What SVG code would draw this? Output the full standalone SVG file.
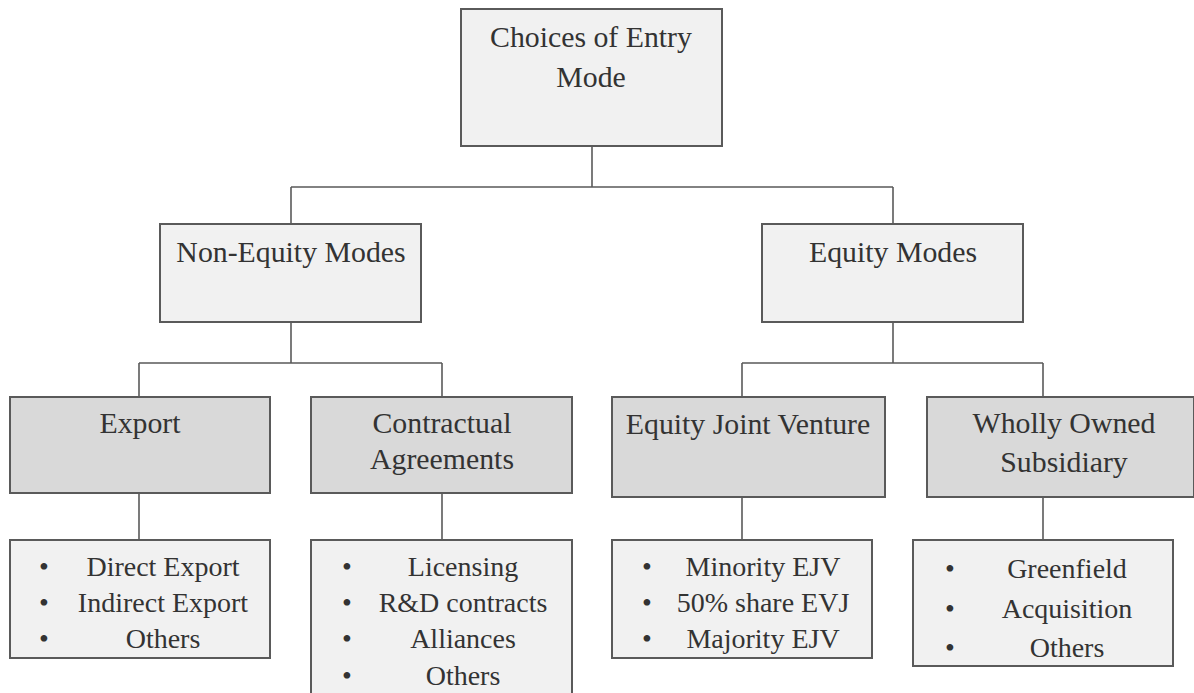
<svg xmlns="http://www.w3.org/2000/svg" width="1194" height="693" viewBox="0 0 1194 693">
<style>
.l1{fill:#f1f1f1;stroke:#5a5a5a;stroke-width:2}
.l2{fill:#d9d9d9;stroke:#5a5a5a;stroke-width:2}
.l3{fill:#f1f1f1;stroke:#5a5a5a;stroke-width:2}
text{font-family:"Liberation Serif","Times New Roman",serif;fill:#333333;text-anchor:middle}
.h{font-size:29.8px}
.i{font-size:28px}
.b{font-size:28px}
.conn{fill:none;stroke:#5a5a5a;stroke-width:1.6}
</style>
<rect width="1194" height="693" fill="#ffffff"/>
<g id="connectors" class="conn">
<path d="M592 146V187M291 187H893M291 187V224M893 187V224"/>
<path d="M291 322V363M139 363H442M139 363V397M442 363V397"/>
<path d="M893 322V363M742 363H1043M742 363V397M1043 363V397"/>
<path d="M139 493V540M442 493V540M742 497V540M1043 497V540"/>
</g>
<g id="root"><rect class="l1" x="461" y="9" width="261" height="137"/><text class="h" x="591" y="47">Choices of Entry</text><text class="h" x="591" y="87">Mode</text></g>
<g id="nonequity"><rect class="l1" x="160" y="224" width="261" height="98"/><text class="h" x="291" y="262">Non-Equity Modes</text></g>
<g id="equity"><rect class="l1" x="762" y="224" width="261" height="98"/><text class="h" x="893" y="262">Equity Modes</text></g>
<g id="export"><rect class="l2" x="10" y="397" width="260" height="96"/><text class="h" x="140" y="433">Export</text></g>
<g id="contractual"><rect class="l2" x="311" y="397" width="261" height="96"/><text class="h" x="442" y="433">Contractual</text><text class="h" x="442" y="469">Agreements</text></g>
<g id="ejv"><rect class="l2" x="612" y="397" width="273" height="100"/><text class="h" x="748" y="434">Equity Joint Venture</text></g>
<g id="wos"><rect class="l2" x="927" y="397" width="267" height="100"/><text class="h" x="1064" y="433">Wholly Owned</text><text class="h" x="1064" y="472">Subsidiary</text></g>
<g id="export-list"><rect class="l3" x="10" y="540" width="260" height="118"/>
<text class="b" x="44" y="576">•</text><text class="b" x="44" y="612">•</text><text class="b" x="44" y="648">•</text>
<text class="i" x="163" y="576">Direct Export</text><text class="i" x="163" y="612">Indirect Export</text><text class="i" x="163" y="648">Others</text></g>
<g id="contractual-list"><rect class="l3" x="311" y="540" width="261" height="160"/>
<text class="b" x="347" y="576">•</text><text class="b" x="347" y="612">•</text><text class="b" x="347" y="648">•</text><text class="b" x="347" y="685">•</text>
<text class="i" x="463" y="576">Licensing</text><text class="i" x="463" y="612">R&amp;D contracts</text><text class="i" x="463" y="648">Alliances</text><text class="i" x="463" y="685">Others</text></g>
<g id="ejv-list"><rect class="l3" x="612" y="540" width="260" height="118"/>
<text class="b" x="647" y="576">•</text><text class="b" x="647" y="612">•</text><text class="b" x="647" y="648">•</text>
<text class="i" x="763" y="576">Minority EJV</text><text class="i" x="763" y="612">50% share EVJ</text><text class="i" x="763" y="648">Majority EJV</text></g>
<g id="wos-list"><rect class="l3" x="913" y="540" width="260" height="126"/>
<text class="b" x="950" y="578">•</text><text class="b" x="950" y="618">•</text><text class="b" x="950" y="657">•</text>
<text class="i" x="1067" y="578">Greenfield</text><text class="i" x="1067" y="618">Acquisition</text><text class="i" x="1067" y="657">Others</text></g>
</svg>
